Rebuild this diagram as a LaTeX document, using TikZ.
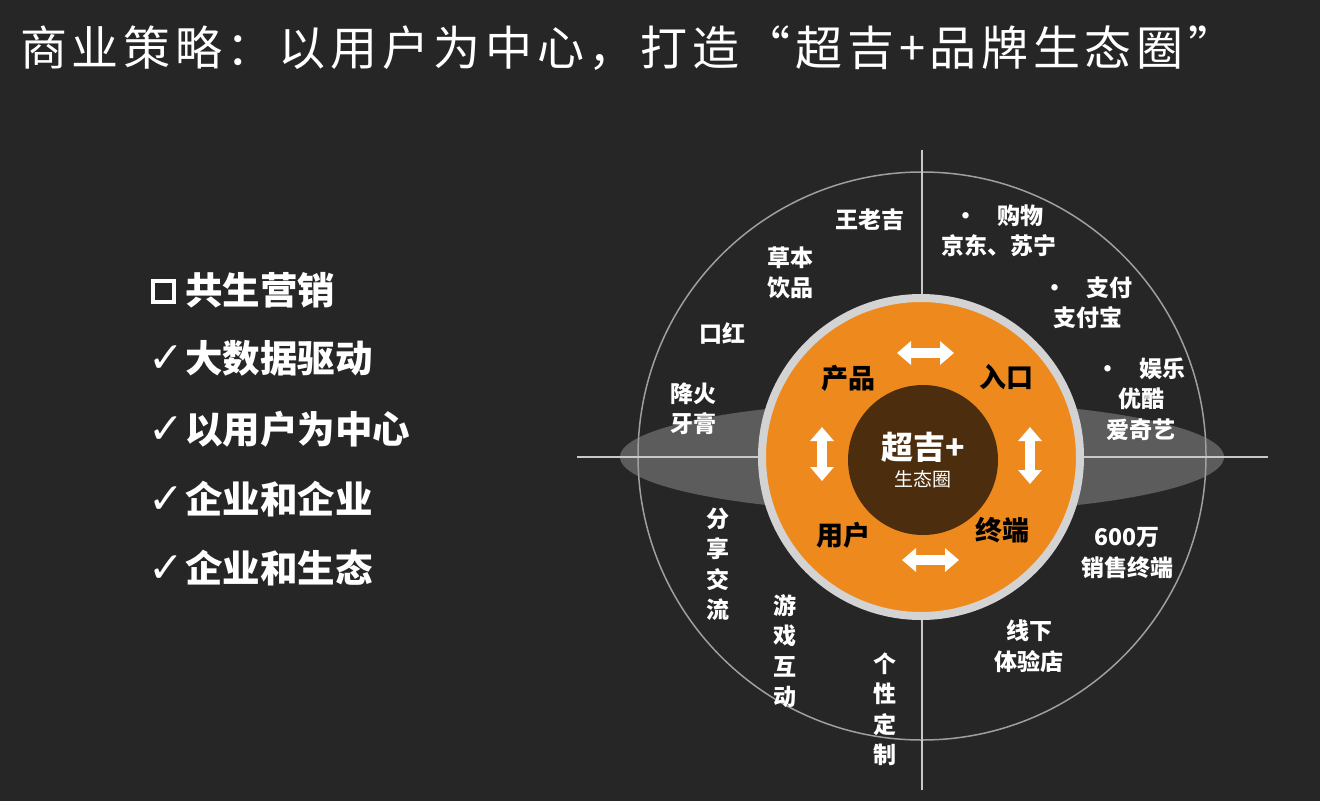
\documentclass[tikz,border=0pt]{standalone}
\usepackage{graphicx}
\usepackage{fontspec}
\setmainfont{Noto Sans CJK SC}
\newfontfamily\symfont{DejaVu Sans}
\usetikzlibrary{positioning,arrows.meta}
\definecolor{bgdark}{HTML}{262626}
\definecolor{glow}{HTML}{5C5C5C}
\definecolor{orng}{HTML}{EE8A1D}
\definecolor{coreb}{HTML}{4C2E0E}
\definecolor{ringgray}{HTML}{D3D3D3}
\definecolor{axisgray}{HTML}{C8C8C8}
\newcommand{\tick}{\makebox[37pt][l]{\scalebox{1.25}{\fontseries{m}\fontsize{34}{34}\symfont ✓}}}
\begin{document}
\begin{tikzpicture}[x=1pt,y=-1pt,
  lbl/.style={text=white,font=\bfseries\fontsize{23}{30.5}\selectfont,align=center,inner sep=0pt},
  ringlbl/.style={text=black,font=\bfseries\fontsize{27}{32}\selectfont,inner sep=0pt},
  item/.style={text=white,font=\bfseries\fontsize{37.5}{40}\selectfont,anchor=west,inner sep=0pt},
  dbl/.style={white,line width=10pt,{Triangle[width=23pt,length=14pt]}-{Triangle[width=23pt,length=14pt]}}]
\fill[bgdark] (0,0) rectangle (1320,801);
% title
\node[text=white,font=\fontsize{47}{50}\selectfont\addfontfeature{LetterSpace=10},anchor=west,inner sep=0pt] (title) at (20,48) {商业策略：以用户为中心，打造“超吉+品牌生态圈”};
% left list
\node[draw=white,line width=4pt,minimum size=21pt,inner sep=0pt] (box) at (163,291) {};
\node[item] (i1) at (185,290) {共生营销};
\node[item] (i2) at (148,358) {\tick 大数据驱动};
\node[item] (i3) at (148,429) {\tick 以用户为中心};
\node[item] (i4) at (148,499) {\tick 企业和企业};
\node[item] (i5) at (148,568) {\tick 企业和生态};
% rings and axes
\fill[glow] (922,457) ellipse [x radius=302, y radius=56];
\draw[gray!75,line width=1.5pt] (922,456) circle [radius=284];
\coordinate (hl) at (577,457); \coordinate (hr) at (1268,457);
\coordinate (vt) at (922,150); \coordinate (vb) at (922,790);
\draw[axisgray,line width=2pt] (hl) -- (hr);
\draw[axisgray,line width=2pt] (vt) -- (vb);
\draw[ringgray,line width=8pt,fill=orng] (921,457) circle [radius=159];
\node[circle,fill=coreb,minimum size=150pt,inner sep=0pt,text=white,align=center] (hub) at (923,460)
  {{\bfseries\fontsize{32}{36}\selectfont 超吉+}\\[7pt]{\fontsize{19}{22}\selectfont 生态圈}};
\node[ringlbl] (prod) at (848,378) {产品};
\node[ringlbl] (entry) at (1006,377) {入口};
\node[ringlbl] (user) at (843,535) {用户};
\node[ringlbl] (term) at (1002,530) {终端};
\coordinate (a1) at (897,353); \coordinate (a2) at (954,353);
\coordinate (b1) at (902,560); \coordinate (b2) at (959,560);
\coordinate (c1) at (822,427); \coordinate (c2) at (822,481);
\coordinate (d1) at (1030,427); \coordinate (d2) at (1030,484);
\draw[dbl] (a1) -- (a2); \draw[dbl] (b1) -- (b2);
\draw[dbl] (c1) -- (c2); \draw[dbl] (d1) -- (d2);
% outer labels
\node[lbl] (wlj) at (870,220) {王老吉};
\node[lbl] (cbyp) at (790,273) {草本\\饮品};
\node[lbl] (kh) at (722,333) {口红};
\node[lbl] (jhyg) at (693,409) {降火\\牙膏};
\node[lbl] (shop) at (999,231) {•\hspace{20pt}购物\\京东、苏宁};
\node[lbl] (pay) at (1088,303) {•\hspace{20pt}支付\\支付宝};
\node[lbl] (fun) at (1141,399) {•\hspace{20pt}娱乐\\优酷\\爱奇艺};
\node[lbl] (pos) at (1127,553) {600万\\销售终端};
\node[lbl] (store) at (1029,646) {线下\\体验店};
\node[lbl] (diy) at (885,709) {个\\性\\定\\制};
\node[lbl] (game) at (785,651) {游\\戏\\互\\动};
\node[lbl] (share) at (718,564) {分\\享\\交\\流};
\end{tikzpicture}
\end{document}
